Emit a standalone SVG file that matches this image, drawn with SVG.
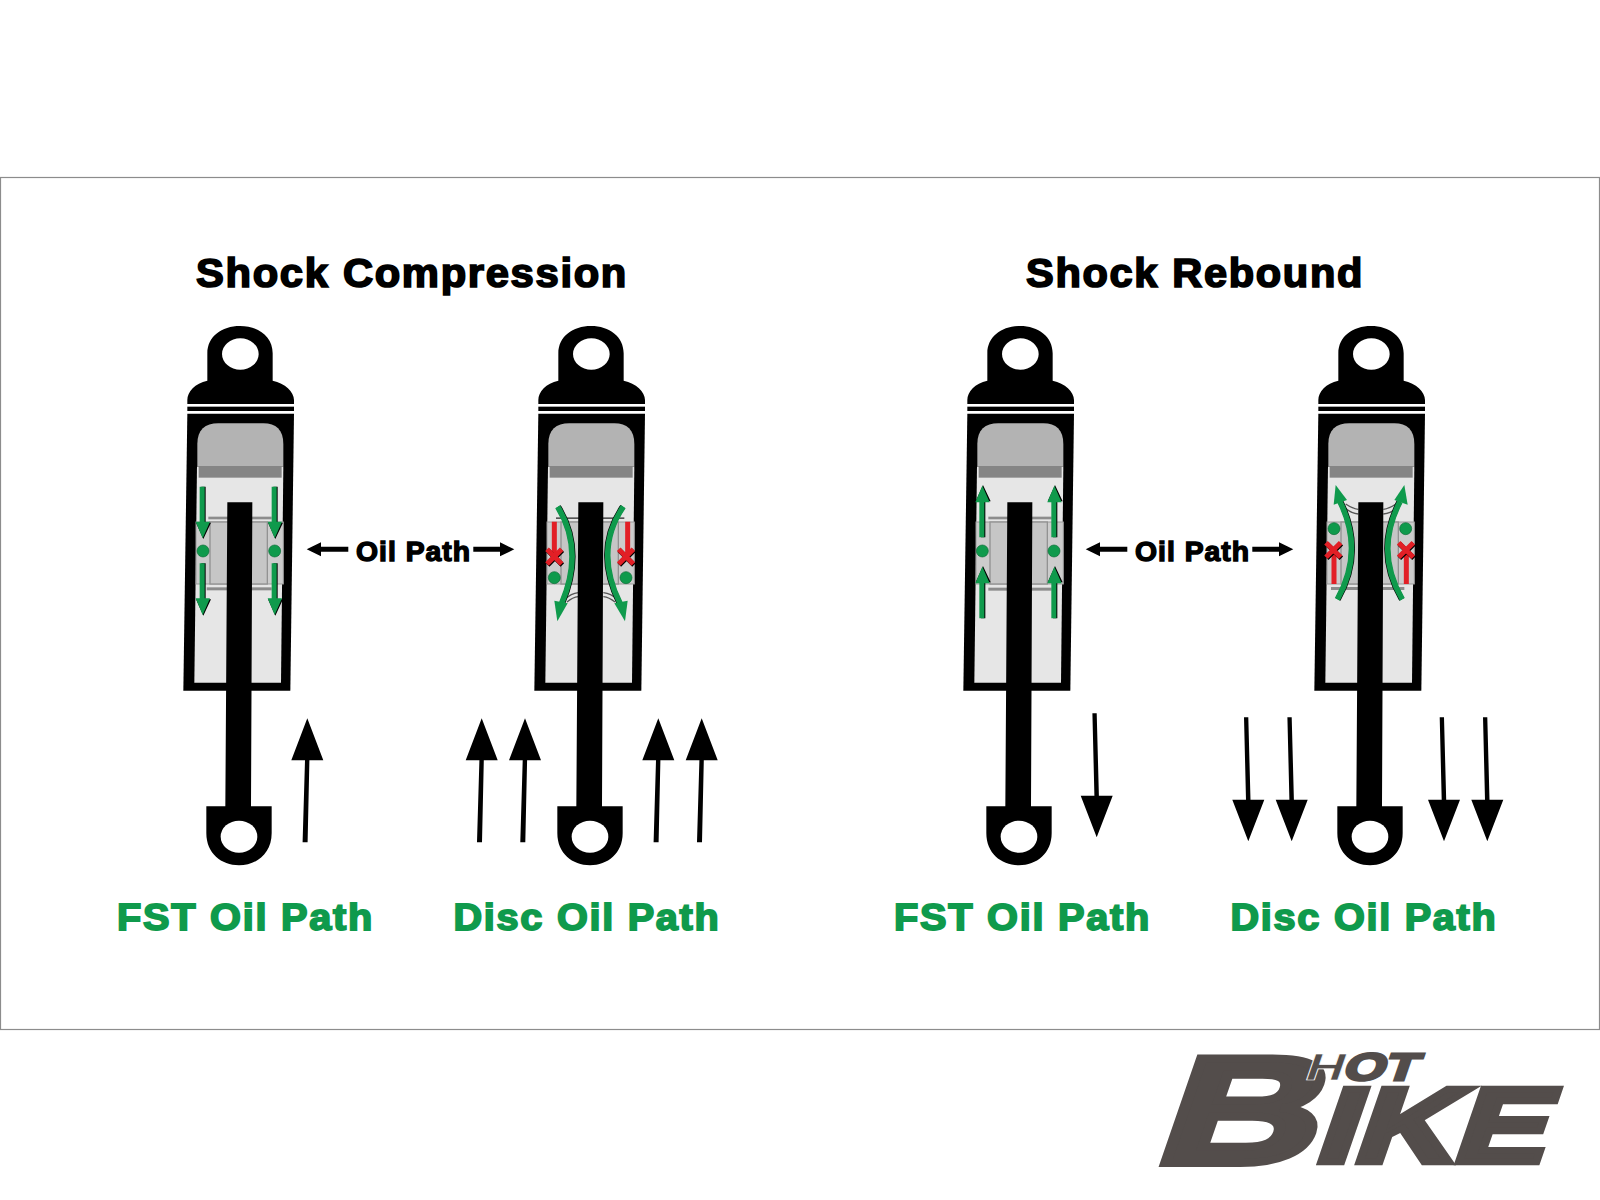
<svg xmlns="http://www.w3.org/2000/svg" xmlns:xlink="http://www.w3.org/1999/xlink" width="1600" height="1200" viewBox="0 0 1600 1200">
<style>
.k{fill:#000}
.t{font-family:"Liberation Sans",Arial,sans-serif;font-weight:700;fill:#000;stroke:#000;stroke-width:1.7;letter-spacing:1.6px}
.g{font-family:"Liberation Sans",Arial,sans-serif;font-weight:700;font-size:37px;fill:#0f9a4c;stroke:#0f9a4c;stroke-width:1.8;letter-spacing:1.6px}
.l{font-family:"Liberation Sans",Arial,sans-serif;font-weight:700;fill:#534d4b;stroke:#534d4b}
.gs{fill:none;stroke:#0f9a4c;stroke-width:17}
.gb{fill:none;stroke:#000;stroke-width:17}
.gf{fill:#0f9a4c}
.r{fill:none;stroke:#e21f26;stroke-width:15}
.rb{fill:none;stroke:#000;stroke-width:15}
.sh{fill:none;stroke:#555;stroke-width:4}
</style>
<defs>
<g id="base">
<path class="k" d="M112 182V100C112 50 155 18 210 18C265 18 308 50 308 100V182C345 190 372 215 372 240V252H52V240C52 215 75 190 112 182Z"/>
<ellipse cx="211" cy="102" rx="55" ry="47" fill="#fff"/>
<rect x="52" y="260" width="320" height="13" class="k"/>
<path class="k" d="M52 281H372L361 1112H40Z"/>
<path fill="#e6e6e6" d="M81 440H340L333 1088H73Z"/>
<path fill="#b3b3b3" d="M82 440V372C82 330 105 310 145 310H280C318 310 340 330 340 372V440Z"/>
<rect x="86" y="438" width="249" height="35" fill="#858585"/>
</g>
<g id="piston">
<rect x="78" y="606" width="262" height="186" fill="#cccccc" stroke="#9a9a9a" stroke-width="3"/>
<rect x="120" y="606" width="172" height="186" fill="#c6c6c6" stroke="#929292" stroke-width="4"/>
</g>
<g id="rod">
<path class="k" d="M172 547H247L243 1459H305V1540C305 1600 260 1636 207 1636C154 1636 109 1600 109 1540V1459H166Z"/>
<ellipse cx="207" cy="1550" rx="55" ry="48" fill="#fff"/>
</g>
<g id="ga">
<path fill="#000" d="M-4 0H9V108H25L2 157L-20 108H-4Z"/>
<path class="gf" d="M-9 0H6V105H22L0 155L-21 105H-9Z"/>
</g>
<path id="up" class="k" d="M0 0L16 42H2.1L0.3 124H-4.7L-2.3 42H-16Z"/>
<path id="down" class="k" d="M0 0L-16 -41.5H-2.3L-4.3 -124H0L2.2 -41.5H16Z"/>
</defs>
<rect width="1600" height="1200" fill="#fff"/>
<rect x="0.5" y="177.5" width="1599" height="852" fill="#fff" stroke="#8c8c8c" stroke-width="1.2"/>

<g id="shock-fst-compression" transform="translate(170 320) scale(.33333)">
<use xlink:href="#base" href="#base"/>
<rect x="115" y="590" width="190" height="8" fill="#8c8c8c"/>
<rect x="110" y="802" width="195" height="9" fill="#8c8c8c"/>
<use xlink:href="#piston" href="#piston"/>
<use xlink:href="#rod" href="#rod"/>
<use xlink:href="#ga" href="#ga" transform="translate(98 500)"/>
<use xlink:href="#ga" href="#ga" transform="translate(98 730)"/>
<use xlink:href="#ga" href="#ga" transform="translate(314 500)"/>
<use xlink:href="#ga" href="#ga" transform="translate(314 730)"/>
<circle cx="99" cy="693" r="18" class="gf" stroke="#0b6b35" stroke-width="2"/>
<circle cx="314" cy="693" r="18" class="gf" stroke="#0b6b35" stroke-width="2"/>
</g>

<g id="shock-disc-compression" transform="translate(521 320) scale(.33333)">
<use xlink:href="#base" href="#base"/>
<rect x="105" y="592" width="205" height="5" fill="#555"/>
<use xlink:href="#piston" href="#piston"/>
<path class="sh" d="M172 818Q150 820 132 838M172 830Q155 832 138 846M247 818Q270 820 288 838M247 830Q264 832 282 846"/>
<use xlink:href="#rod" href="#rod"/>
<path class="r" d="M100 605V702M320 605V702"/>
<path class="rb" transform="translate(2 3)" d="M78 688L122 732M122 688L78 732M293 688L337 732M337 688L293 732"/>
<path class="r" d="M78 688L122 732M122 688L78 732M293 688L337 732M337 688L293 732"/>
<circle cx="100" cy="773" r="18" class="gf" stroke="#0b6b35" stroke-width="2"/>
<circle cx="315" cy="773" r="18" class="gf" stroke="#0b6b35" stroke-width="2"/>
<path class="gb" transform="translate(2 0)" d="M110 560Q190 690 122 850"/>
<path class="gb" transform="translate(-2 0)" d="M307 560Q218 690 297 850"/>
<path class="gs" d="M110 560Q190 690 122 850"/>
<path class="gs" d="M307 560Q218 690 297 850"/>
<path class="gf" d="M100 842L140 850L109 904Z"/>
<path class="gf" d="M280 850L320 842L312 904Z"/>
</g>

<g id="shock-fst-rebound" transform="translate(950 320) scale(.33333)">
<use xlink:href="#base" href="#base"/>
<rect x="115" y="590" width="190" height="8" fill="#8c8c8c"/>
<rect x="115" y="803" width="190" height="9" fill="#8c8c8c"/>
<use xlink:href="#piston" href="#piston"/>
<use xlink:href="#rod" href="#rod"/>
<use xlink:href="#ga" href="#ga" transform="translate(97 652) scale(1 -1)"/>
<use xlink:href="#ga" href="#ga" transform="translate(97 895) scale(1 -1)"/>
<use xlink:href="#ga" href="#ga" transform="translate(313 652) scale(1 -1)"/>
<use xlink:href="#ga" href="#ga" transform="translate(313 895) scale(1 -1)"/>
<circle cx="97" cy="693" r="18" class="gf" stroke="#0b6b35" stroke-width="2"/>
<circle cx="312" cy="693" r="18" class="gf" stroke="#0b6b35" stroke-width="2"/>
</g>

<g id="shock-disc-rebound" transform="translate(1301 320) scale(.33333)">
<use xlink:href="#base" href="#base"/>
<rect x="90" y="801" width="220" height="9" fill="#8c8c8c"/>
<use xlink:href="#piston" href="#piston"/>
<path class="sh" d="M172 568Q155 566 134 552M172 582Q150 580 130 562M247 568Q264 566 285 552M247 582Q270 580 290 562"/>
<use xlink:href="#rod" href="#rod"/>
<path class="r" d="M99 695V792M316 695V792"/>
<path class="rb" transform="translate(2 3)" d="M75 668L119 712M119 668L75 712M293 668L337 712M337 668L293 712"/>
<path class="r" d="M75 668L119 712M119 668L75 712M293 668L337 712M337 668L293 712"/>
<circle cx="99" cy="626" r="18" class="gf" stroke="#0b6b35" stroke-width="2"/>
<circle cx="314" cy="626" r="18" class="gf" stroke="#0b6b35" stroke-width="2"/>
<path class="gb" transform="translate(2 0)" d="M109 838Q190 694 117 545"/>
<path class="gb" transform="translate(-2 0)" d="M304 838Q220 694 297 545"/>
<path class="gs" d="M109 838Q190 694 117 545"/>
<path class="gs" d="M304 838Q220 694 297 545"/>
<path class="gf" d="M98 554L138 540L104 495Z"/>
<path class="gf" d="M280 540L320 554L310 495Z"/>
</g>

<g id="connectors">
<use xlink:href="#up" href="#up" x="307.3" y="718.3"/>
<use xlink:href="#up" href="#up" x="481.7" y="718.3"/>
<use xlink:href="#up" href="#up" x="525" y="718.3"/>
<use xlink:href="#up" href="#up" x="658.3" y="718.3"/>
<use xlink:href="#up" href="#up" x="701.7" y="718.3"/>
<use xlink:href="#down" href="#down" x="1096.7" y="837.3"/>
<use xlink:href="#down" href="#down" x="1248.3" y="841.3"/>
<use xlink:href="#down" href="#down" x="1291.7" y="841.3"/>
<use xlink:href="#down" href="#down" x="1444" y="841.3"/>
<use xlink:href="#down" href="#down" x="1487.3" y="841.3"/>
<g id="oil-arrows-compression">
<path class="k" d="M306.7 549.3L321 542.3V546.8H348.3V551.8H321V556.3Z"/>
<path class="k" d="M514.3 549.3L500 542.3V546.8H473.3V551.8H500V556.3Z"/>
</g>
<g id="oil-arrows-rebound" transform="translate(779 0)">
<path class="k" d="M306.7 549.3L321 542.3V546.8H348.3V551.8H321V556.3Z"/>
<path class="k" d="M514.3 549.3L500 542.3V546.8H473.3V551.8H500V556.3Z"/>
</g>
</g>

<g id="labels">
<text class="t" x="196" y="286.5" font-size="40" textLength="432" lengthAdjust="spacingAndGlyphs">Shock Compression</text>
<text class="t" x="1026" y="286.5" font-size="40" textLength="338" lengthAdjust="spacingAndGlyphs">Shock Rebound</text>
<text class="t" style="stroke-width:1.4;letter-spacing:1px" x="356" y="560.5" font-size="28" textLength="115" lengthAdjust="spacingAndGlyphs">Oil Path</text>
<text class="t" style="stroke-width:1.4;letter-spacing:1px" x="1135" y="560.5" font-size="28" textLength="115" lengthAdjust="spacingAndGlyphs">Oil Path</text>
<text class="g" x="117" y="930" textLength="257" lengthAdjust="spacingAndGlyphs">FST Oil Path</text>
<text class="g" x="453.5" y="930" textLength="267" lengthAdjust="spacingAndGlyphs">Disc Oil Path</text>
<text class="g" x="894" y="930" textLength="257" lengthAdjust="spacingAndGlyphs">FST Oil Path</text>
<text class="g" x="1230.5" y="930" textLength="267" lengthAdjust="spacingAndGlyphs">Disc Oil Path</text>
</g>

<g id="logo">
<text class="l" font-size="152" stroke-width="8" transform="translate(1151 1163) skewX(-19) scale(1.45 1)">B</text>
<text class="l" font-size="106" stroke-width="6.5" transform="translate(1312 1161.5) skewX(-19) scale(1.3 1)">IKE</text>
<text class="l" font-size="38" stroke-width="2.8" transform="translate(1303 1080) skewX(-19) scale(1.4 1)"><tspan style="stroke:#fff;stroke-width:.7">H</tspan>OT</text>
</g>
</svg>
